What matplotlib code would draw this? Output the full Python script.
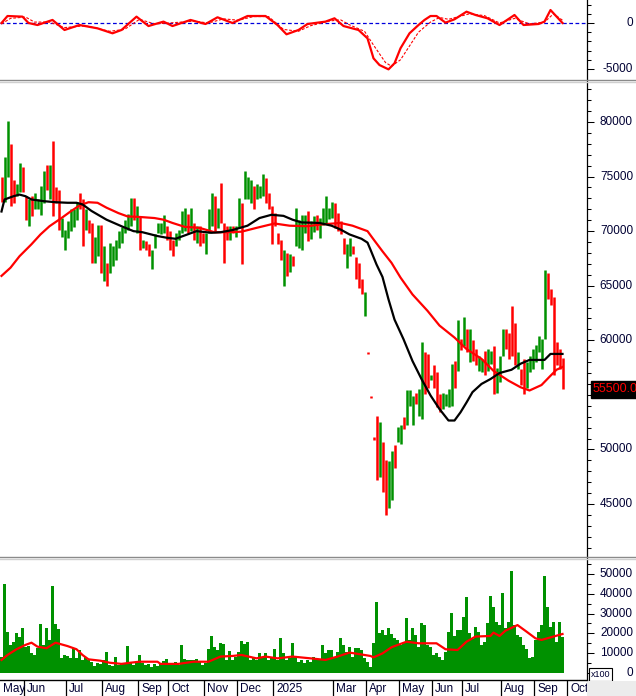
import numpy as np
import matplotlib
matplotlib.use("Agg")
import matplotlib.pyplot as plt
from matplotlib.lines import Line2D
from matplotlib.patches import Rectangle
from matplotlib.transforms import blended_transform_factory

plt.rcParams["font.family"] = ["Liberation Sans", "DejaVu Sans"]

# ---------------------------------------------------------------------------
# Data (one bar ~ two sessions, May 2024 -> end of Sep 2025)
# ---------------------------------------------------------------------------
bar_high = [
    75000, 76800, 80100, 78000, 74700, 74300, 76200, 75900, 73200, 72900,
    73200, 73500, 72900, 74100, 75500, 76100, 76100, 78300, 74000, 73800,
    71200, 70150, 70900, 72000, 72000, 72700, 73500, 72900, 72000, 71000,
    70750, 69500, 70600, 70600, 68600, 67100, 68900, 68600, 69200, 70000,
    70400, 71000, 71600, 73000, 73000, 72300, 71400, 69200, 69100, 68800,
    68300, 69700, 70750, 70750, 71500, 70450, 70000, 69200, 69800, 70150,
    71800, 72100, 71600, 72100, 70750, 70450, 70450, 69800, 69800, 72000,
    73500, 73200, 72100, 74400, 70750, 70450, 70450, 70450, 70450, 73000,
    72600, 75500, 75000, 74700, 74100, 74300, 74100, 75200, 74900, 73500,
    72300, 71700, 69800, 69200, 68300, 68000, 67900, 67700, 72100, 71000,
    71500, 71500, 71800, 70900, 71400, 71500, 71200, 72100, 73200, 72100,
    72700, 72600, 71700, 70900, 69400, 68800, 69400, 68600, 67600, 67100,
    65600, 64400, 58900, 54900, 51100, 53100, 52500, 50700, 49000, 48900,
    49900, 50400, 52100, 52200, 53000, 55400, 55400, 54900, 55200, 55500,
    59800, 58900, 58700, 56800, 57700, 57100, 55100, 55200, 55100, 55500,
    57800, 58100, 61900, 60100, 62100, 61000, 61000, 60000, 59200, 58600,
    58300, 59000, 59200, 59000, 59500, 57500, 58600, 61000, 61000, 60700,
    63100, 61600, 58900, 57400, 58300, 58000, 58600, 59200, 59600, 60400,
    60100, 66400, 66200, 64700, 64000, 59800, 59200, 58400,
]
bar_low = [
    72700, 72700, 75000, 72300, 72600, 73200, 73600, 73600, 71000, 70500,
    71400, 72000, 72000, 71500, 72600, 73800, 72900, 71400, 72600, 70150,
    69500, 68300, 69400, 70000, 70400, 71000, 72000, 68600, 70100, 69800,
    67100, 67100, 67700, 66200, 65400, 65000, 66200, 66800, 67400, 68500,
    68900, 69800, 70150, 70450, 71000, 69800, 68300, 68500, 68300, 67700,
    66500, 68500, 69800, 69700, 69800, 69200, 68300, 67700, 68600, 69200,
    69800, 70000, 69800, 70000, 69200, 68900, 68600, 68900, 67900, 69800,
    70450, 70000, 70300, 70750, 67100, 69200, 69200, 69800, 69500, 70300,
    67000, 72900, 72900, 72600, 72000, 72900, 73000, 73200, 72600, 72000,
    68800, 70450, 68800, 67400, 65000, 65900, 66300, 66800, 68600, 68500,
    68300, 69800, 69100, 69300, 69900, 70100, 69400, 70600, 70750, 71100,
    71200, 70300, 70000, 69700, 67900, 66600, 67700, 67900, 65600, 64800,
    64200, 62200, 58700, 54700, 50900, 47200, 47500, 46100, 44000, 44600,
    45400, 48300, 50700, 50500, 51900, 52200, 54000, 52200, 54200, 53100,
    52800, 55100, 55600, 56400, 55600, 53900, 53400, 53700, 54000, 53900,
    54000, 55600, 57200, 59100, 59500, 58900, 58000, 58100, 57700, 57200,
    57100, 56800, 57200, 57800, 55100, 55200, 56200, 58600, 59200, 58300,
    58600, 57700, 57400, 55900, 55100, 55600, 57100, 57400, 58000, 58900,
    57400, 60100, 63800, 63200, 56800, 57700, 57400, 55500,
]
bar_up = [
    0, 1, 1, 0, 0, 1, 1, 0, 0, 1, 0, 1, 1, 1, 1, 0, 1, 0, 0, 0,
    1, 1, 1, 1, 1, 1, 0, 0, 1, 0, 0, 1, 1, 0, 1, 0, 1, 1, 1, 1,
    1, 1, 1, 1, 0, 1, 0, 1, 0, 0, 1, 1, 1, 1, 1, 0, 0, 0, 1, 1,
    1, 1, 0, 1, 0, 1, 0, 0, 1, 1, 1, 0, 1, 0, 0, 0, 1, 0, 1, 1,
    0, 1, 1, 1, 0, 1, 1, 1, 0, 0, 0, 0, 0, 0, 1, 0, 1, 0, 1, 1,
    1, 1, 0, 1, 1, 0, 1, 1, 1, 1, 1, 0, 0, 0, 0, 1, 1, 0, 0, 0,
    0, 1, 0, 0, 0, 0, 1, 0, 0, 1, 1, 0, 1, 1, 0, 1, 1, 1, 0, 1,
    1, 0, 0, 1, 0, 0, 0, 1, 1, 1, 1, 0, 1, 0, 1, 0, 1, 0, 0, 1,
    1, 0, 1, 1, 0, 1, 1, 1, 0, 0, 0, 0, 1, 0, 0, 1, 1, 1, 1, 1,
    1, 1, 0, 0, 0, 0, 0, 0,
]
volume = [
    8300, 44900, 20900, 14200, 15800, 20000, 18400, 22600, 13300, 13600,
    9900, 9100, 12500, 24700, 14200, 22600, 16700, 43900, 24700, 22100,
    7400, 9100, 8600, 7400, 12500, 7400, 11600, 6600, 7900, 6600,
    5700, 3500, 4900, 4600, 6600, 10800, 4000, 3500, 8300, 4000,
    4900, 4600, 13600, 5700, 4000, 4900, 9100, 4900, 4000, 4600,
    3200, 4600, 3500, 4900, 6200, 6900, 4900, 4600, 5700, 4000,
    14200, 6900, 6600, 6600, 6600, 6900, 5700, 4000, 4900, 12000,
    18700, 13300, 11600, 15000, 14700, 6600, 11300, 6600, 8300, 10800,
    16200, 14700, 15800, 6600, 7900, 6600, 9900, 8300, 10300, 6600,
    7400, 12000, 6600, 17500, 10300, 6600, 7400, 15000, 7900, 5700,
    6600, 5200, 6600, 5700, 7900, 7400, 6600, 14200, 9900, 11600,
    11600, 8300, 10800, 17500, 14200, 10800, 13300, 8300, 12500, 12500,
    11600, 7400, 5700, 3200, 15000, 36000, 20000, 21700, 19200, 22600,
    19700, 17500, 16700, 14200, 15000, 27600, 16700, 22600, 19200, 13300,
    25400, 24200, 14200, 13300, 9100, 9900, 8300, 6600, 10800, 20900,
    30100, 18700, 21700, 21700, 28500, 38500, 20000, 17000, 23400, 20900,
    14200, 15800, 25100, 38900, 33500, 25900, 24200, 40200, 22600, 25900,
    51500, 24200, 19200, 18400, 14200, 12000, 7400, 8300, 16700, 20900,
    24200, 49000, 33500, 23400, 25900, 15800, 25900, 18400,
]

# moving averages, sampled at bar indices
ma_fast_bar = [0, 1, 4, 6, 8, 10, 14, 18, 22, 25, 27, 30, 35, 40, 44, 47, 52, 55,
               58, 62, 65, 70, 73, 77, 82, 86, 90, 94, 97, 100, 106, 110, 113,
               116, 120, 122, 123, 125, 127, 129, 131, 134, 137, 140, 143, 146,
               149, 151, 153, 155, 157, 160, 163, 166, 170, 173, 176, 181, 183, 187]
ma_fast_val = [71800, 72900, 73200, 73350, 73200, 72900, 72750, 72650, 72600, 72600,
               72450, 71850, 71050, 70450, 70000, 69900, 69550, 69400, 69300, 69700,
               70000, 69850, 69900, 70100, 70500, 71200, 71500, 71400, 71050, 70800,
               70750, 70500, 70150, 69700, 69300, 68950, 68300, 66950, 65800, 63750,
               61900, 60100, 58100, 56450, 54950, 53700, 52650, 52650, 53400, 54300,
               55250, 56000, 56450, 57000, 57300, 57850, 58200, 58200, 58750, 58750]
ma_slow_bar = [0, 3, 6, 10, 13, 16, 20, 23, 26, 29, 32, 35, 39, 42, 46, 51, 54, 57,
               61, 66, 71, 75, 80, 85, 91, 96, 102, 106, 113, 117, 122, 124, 127,
               130, 133, 137, 142, 146, 151, 155, 160, 164, 169, 173, 176, 180, 183,
               185, 187]
ma_slow_val = [65900, 66650, 67700, 68800, 69700, 70450, 71200, 71800, 72350, 72650,
               72600, 72150, 71650, 71350, 71300, 71200, 71050, 70750, 70400, 70300,
               69900, 69900, 69950, 70300, 70700, 70500, 70450, 70600, 70750, 70500,
               70000, 69250, 68150, 67100, 65750, 64200, 62700, 61350, 60250, 59200,
               58300, 57200, 56300, 55700, 55400, 55900, 56750, 57300, 57550]

macd_bar = [0, 2, 7, 9, 12, 17, 21, 26, 32, 37, 40, 45, 49, 54, 57, 63, 68, 72, 77,
            82, 88, 92, 95, 99, 102, 108, 111, 114, 119, 122, 123, 124, 126, 129,
            131, 133, 136, 139, 141, 143, 145, 148, 151, 155, 158, 162, 166, 171,
            174, 179, 181, 183, 187]
macd_val = [0, 760, 690, 0, -220, 330, -760, -220, -580, -1120, -760, 690, -330,
            150, -330, 330, -110, 620, 0, 760, 760, -220, -1230, -760, -110, 150,
            510, -330, -760, -1670, -2750, -3840, -4570, -5040, -4380, -2750, -1120,
            -220, 330, 760, 760, 40, 400, 1230, 870, 510, -220, 870, -220, -110, 150,
            1410, 0]
signal_bar = [0, 3, 8, 11, 16, 21, 28, 36, 41, 46, 51, 56, 64, 69, 74, 79, 84, 89,
              94, 99, 103, 109, 113, 116, 121, 124, 128, 130, 133, 136, 139, 143,
              146, 149, 156, 161, 166, 171, 176, 181, 184, 187]
signal_val = [-100, 500, 650, 100, 100, -500, -300, -900, -700, 400, -100, 0, 200,
              0, 450, 300, 700, 700, -700, -900, -300, 200, 350, -200, -900, -2400,
              -4300, -4700, -4000, -2500, -1000, 100, 600, 400, 1000, 800, 0, 500,
              -100, 100, 1000, 300]

vol_ma_bar = [0, 2, 5, 8, 10, 12, 15, 18, 22, 25, 27, 29, 33, 36, 40, 43, 46, 52, 53,
              59, 64, 69, 73, 77, 80, 85, 88, 92, 97, 103, 108, 112, 116, 119, 123,
              124, 127, 130, 135, 139, 145, 148, 152, 155, 158, 163, 164, 166, 168,
              172, 175, 178, 180, 184, 187]
vol_ma_val = [6600, 9100, 12000, 14200, 15300, 13300, 12500, 15300, 13600, 12000,
              9100, 6900, 6200, 5200, 4600, 5200, 5700, 5700, 4600, 4600, 5700, 5700,
              8300, 8600, 9100, 7400, 8300, 7400, 8300, 7400, 6600, 8300, 10300, 9600,
              8600, 7900, 9900, 13000, 15800, 15000, 15000, 12000, 11600, 15800, 18400,
              18700, 20400, 18700, 21400, 24200, 20900, 17500, 16700, 18400, 19700]

month_labels = ["May", "Jun", "Jul", "Aug", "Sep", "Oct", "Nov", "Dec", "2025",
                "Mar", "Apr", "May", "Jun", "Jul", "Aug", "Sep", "Oct"]
month_start_bar = [0, 8, 22, 34, 46, 56, 68, 79, 91, 111, 122, 133, 144, 154,
                   167, 178, 189]

price_ticks = [45000, 50000, 55000, 60000, 65000, 70000, 75000, 80000]
macd_ticks = [-5000, 0]
vol_ticks = [0, 10000, 20000, 30000, 40000, 50000]
last_close = 55500

# ---------------------------------------------------------------------------
W, H = 636, 696
AXIS_X = 587          # pixel column of the right-hand value axis
LABEL_X = 633         # right edge of the value labels
GREEN = "#009100"
RED = "#ff0000"
LABEL_COLOR = "#000033"
FS = 8.5

fig = plt.figure(figsize=(W / 100, H / 100), dpi=100)
fig.patch.set_facecolor("white")

x = np.arange(len(bar_high))
XLIM = (-0.5, (AXIS_X - 1.5) / 3)


def panel(top, bottom, ylim):
    ax = fig.add_axes([0, 1 - bottom / H, AXIS_X / W, (bottom - top) / H])
    ax.set_xlim(*XLIM)
    ax.set_ylim(*ylim)
    for s in ax.spines.values():
        s.set_visible(False)
    ax.set_xticks([])
    ax.yaxis.tick_right()
    ax.tick_params(axis="y", which="both", direction="out", labelright=False,
                   labelleft=False, color="black", width=0.75)
    ax.tick_params(axis="y", which="major", length=5.2)
    ax.tick_params(axis="y", which="minor", length=3)
    return ax


def value_labels(ax, values, fmt=str):
    tr = blended_transform_factory(fig.transFigure, ax.transData)
    for v in values:
        ax.text(LABEL_X / W, v, fmt(v), transform=tr, ha="right", va="center",
                fontsize=FS, color=LABEL_COLOR, clip_on=False)


# ---- MACD panel ----
ax_m = panel(0, 78, (-5980, 2500))
ax_m.axhline(0, color="#0000dd", lw=0.9, ls=(0, (3, 2)))
ax_m.plot(signal_bar, signal_val, color=RED, lw=0.8, ls=(0, (2.5, 1.5)))
ax_m.plot(macd_bar, macd_val, color=RED, lw=1.6)
ax_m.set_yticks(macd_ticks)
ax_m.set_yticks(np.arange(-5000, 2001, 1000), minor=True)
value_labels(ax_m, macd_ticks)

# ---- price panel ----
ax_p = panel(83, 556, (40236, 83573))
colors = [GREEN if u else RED for u in bar_up]
ax_p.vlines(x, bar_low, bar_high, colors=colors, lw=1.8)
ax_p.plot(ma_slow_bar, ma_slow_val, color=RED, lw=1.6)
ax_p.plot(ma_fast_bar, ma_fast_val, color="black", lw=1.6)
ax_p.set_yticks(price_ticks)
ax_p.set_yticks(np.arange(41000, 84000, 1000), minor=True)
value_labels(ax_p, price_ticks)
tr = blended_transform_factory(fig.transFigure, ax_p.transData)
ax_p.text(593 / W, last_close, f"{last_close:.2f}", transform=tr, ha="left",
          va="center", fontsize=FS + 0.5, color=RED, clip_on=False, zorder=10,
          bbox=dict(facecolor="black", edgecolor="black",
                    boxstyle="square,pad=0.2"))

# ---- volume panel ----
ax_v = panel(560, 680, (-3535, 57065))
ax_v.bar(x, volume, width=0.92, color=GREEN, lw=0)
ax_v.plot(vol_ma_bar, vol_ma_val, color=RED, lw=1.6)
ax_v.set_yticks(vol_ticks)
ax_v.set_yticks(np.arange(0, 56000, 5000), minor=True)
value_labels(ax_v, vol_ticks)
fig.add_artist(Rectangle((589 / W, 1 - 681 / H), 23 / W, 13 / H,
                         transform=fig.transFigure, facecolor="white",
                         edgecolor="black", lw=0.8))
fig.text(600.5 / W, 1 - 674.5 / H, "x100", ha="center", va="center",
         fontsize=6.5, color=LABEL_COLOR)

# ---- date strip ----
ax_d = fig.add_axes([0, 0, AXIS_X / W, 16 / H])
ax_d.set_xlim(*XLIM)
ax_d.set_ylim(0, 1)
ax_d.set_xticks([])
ax_d.set_yticks([])
for s in ["left", "right", "bottom"]:
    ax_d.spines[s].set_visible(False)
ax_d.spines["top"].set_linewidth(1)
for i, (lab, b) in enumerate(zip(month_labels, month_start_bar)):
    if i > 0:
        ax_d.axvline(b - 0.5, color="black", lw=0.9)
    ax_d.text(b - 0.5 + 1.0, 0.45, lab, ha="left", va="center", fontsize=FS,
              color=LABEL_COLOR)
fig.add_artist(Rectangle((AXIS_X / W, 0), (W - AXIS_X) / W, 15 / H,
                         transform=fig.transFigure, facecolor="#ececec",
                         edgecolor="none"))

# ---- frame lines: value axis and panel separators ----
fig.add_artist(Line2D([AXIS_X / W] * 2, [1 - 680 / H, 1], transform=fig.transFigure,
                      color="black", lw=0.9))
for y, c in [(79.5, "#8a8a8a"), (81.5, "#cfcfcf"), (556.8, "#8a8a8a"), (558.8, "#cfcfcf")]:
    fig.add_artist(Line2D([0, 1], [1 - y / H] * 2, transform=fig.transFigure,
                          color=c, lw=1.0))

fig.savefig("out.png", dpi=100)
plt.close(fig)
